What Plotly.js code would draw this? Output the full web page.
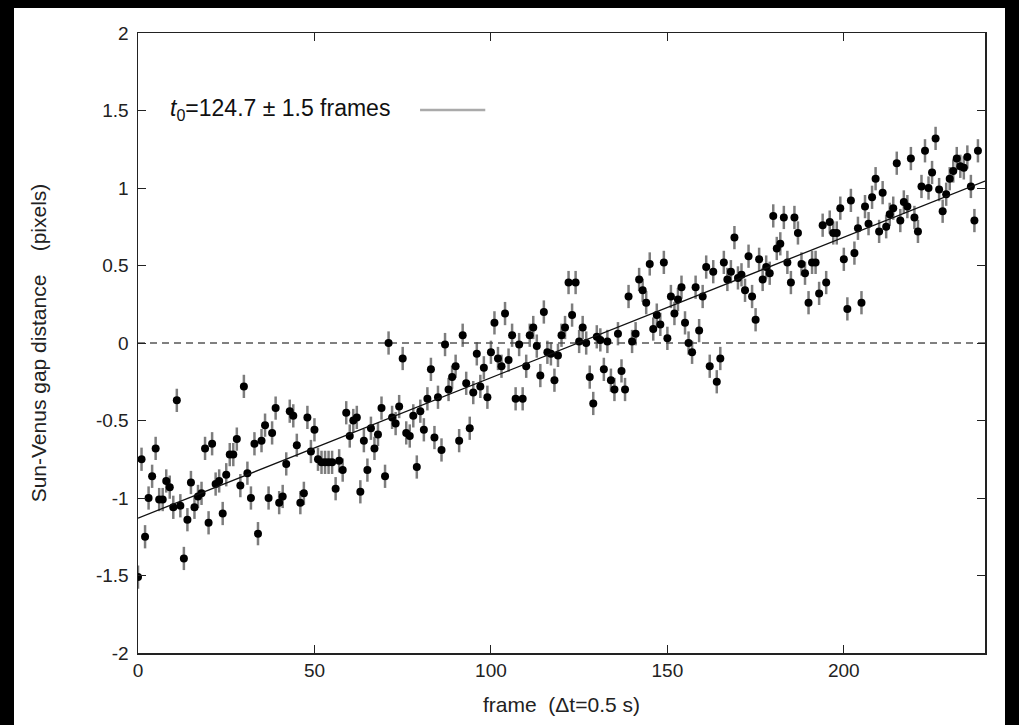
<!DOCTYPE html>
<html>
<head>
<meta charset="utf-8">
<script src="https://cdn.plot.ly/plotly-3.0.1.min.js"></script>
<style>
  html, body { margin: 0; padding: 0; background: #000; width: 1019px; height: 725px; overflow: hidden; }
  #chart { position: absolute; left: 14px; top: 8px; width: 991px; height: 717px; background: #fff; }
</style>
</head>
<body>
<div id="chart"></div>
<script>
// ---- data ----
const frames = [
  0,1,2,3,4,5,6,7,8,9,10,11,12,13,14,15,16,17,18,19,20,21,22,23,24,25,26,27,28,29,
  30,31,32,33,34,35,36,37,38,39,40,41,42,43,44,45,46,47,48,49,50,51,52,53,54,55,56,57,58,59,
  60,61,62,63,64,65,66,67,68,69,70,71,72,73,74,75,76,77,78,79,80,81,82,83,84,85,86,87,88,89,
  90,91,92,93,94,95,96,97,98,99,100,101,102,103,104,105,106,107,108,109,110,111,112,113,114,115,116,117,118,119,
  120,121,122,123,124,125,126,127,128,129,130,131,132,133,134,135,136,137,138,139,140,141,142,143,144,145,146,147,148,149,
  150,151,152,153,154,155,156,157,158,159,160,161,162,163,164,165,166,167,168,169,170,171,172,173,174,175,176,177,178,179,
  180,181,182,183,184,185,186,187,188,189,190,191,192,193,194,195,196,197,198,199,200,201,202,203,204,205,206,207,208,209,
  210,211,212,213,214,215,216,217,218,219,220,221,222,223,224,225,226,227,228,229,230,231,232,233,234,235,236,237,238,239
];
const gap = [
  -1.51,-0.75,-1.25,-1.00,-0.86,-0.68,-1.01,-1.01,-0.89,-0.93,-1.06,-0.37,-1.05,-1.39,-1.14,-0.90,-1.06,-0.99,-0.97,-0.68,
  -1.16,-0.65,-0.91,-0.89,-1.10,-0.85,-0.72,-0.72,-0.62,-0.92,-0.28,
  -0.84,-1.00,-0.65,-1.23,-0.63,-0.53,-1.00,-0.58,-0.42,-1.03,-0.99,-0.78,-0.44,-0.47,-0.66,-1.03,-0.97,-0.48,-0.70,-0.56,
  -0.75,-0.77,-0.77,-0.77,-0.77,-0.94,-0.76,-0.82,-0.45,
  -0.60,-0.50,-0.48,-0.96,-0.63,-0.82,-0.55,-0.68,-0.59,-0.42,-0.86,0.00,-0.48,-0.52,-0.41,-0.10,-0.58,-0.60,-0.47,-0.80,
  -0.44,-0.56,-0.36,-0.17,-0.61,-0.35,-0.69,-0.01,-0.30,-0.22,
  -0.15,-0.63,0.05,-0.26,-0.55,-0.32,-0.07,-0.28,-0.16,-0.35,-0.06,0.13,-0.10,-0.15,0.19,-0.11,0.05,-0.36,-0.01,-0.36,
  -0.15,0.05,0.10,-0.02,-0.21,0.20,-0.06,-0.07,-0.24,
  -0.08,0.05,0.10,0.39,0.18,0.39,0.01,0.10,0.00,-0.22,-0.39,0.04,0.02,-0.17,0.01,-0.24,-0.30,0.06,-0.18,-0.30,
  0.30,0.01,0.06,0.41,0.34,0.26,0.51,0.09,0.18,0.12,
  0.52,0.03,0.30,0.19,0.28,0.36,0.13,0.00,-0.06,0.36,0.08,0.30,0.49,-0.15,0.46,-0.25,-0.10,0.52,0.41,0.46,
  0.68,0.42,0.44,0.34,0.56,0.30,0.15,0.54,0.41,0.49,
  0.45,0.82,0.61,0.64,0.81,0.52,0.39,0.81,0.71,0.51,0.45,0.26,0.52,0.52,0.32,0.76,0.39,0.78,0.71,0.71,
  0.87,0.54,0.22,0.92,0.58,0.74,0.26,0.88,0.77,0.94,
  1.06,0.72,0.97,0.75,0.83,0.87,1.16,0.79,0.91,0.88,1.19,0.81,0.72,1.01,1.24,1.00,1.10,1.32,0.99,0.85,
  0.96,1.06,1.11,1.19,1.14,1.13,1.20,1.01,0.79,1.24
];
const fitFrames = [0, 240];
const fitGap = [-1.13, 1.045];
const zeroFrames = [0, 240];
const zeroGap = [0, 0];
const xTicks = [0, 50, 100, 150, 200];
const yTicks = [-2, -1.5, -1, -0.5, 0, 0.5, 1, 1.5, 2];
const yTickText = ['-2', '-1.5', '-1', '-0.5', '0', '0.5', '1', '1.5', '2'];
const legendText = '<i>t</i><sub>0</sub>=124.7 ± 1.5 frames';

const n = Math.min(frames.length, gap.length);
const xs = frames.slice(0, n), ys = gap.slice(0, n);

const font = 'Liberation Sans, Arial, Helvetica, sans-serif';

const traces = [
  {
    x: zeroFrames, y: zeroGap, mode: 'lines', type: 'scatter',
    line: { color: '#000', width: 1, dash: '7px,5px' }, hoverinfo: 'skip', showlegend: false
  },
  {
    x: xs, y: ys, mode: 'markers', type: 'scatter',
    marker: { color: '#000', size: 8 },
    error_y: { type: 'constant', value: 0.075, color: 'rgba(70,70,70,0.7)', thickness: 2.5, width: 0 },
    showlegend: false
  },
  {
    x: fitFrames, y: fitGap, mode: 'lines', type: 'scatter',
    line: { color: '#111', width: 1.3 }, hoverinfo: 'skip', showlegend: false
  }
];

const axisCommon = {
  showgrid: false, zeroline: false, showline: true, linecolor: '#222', linewidth: 1.5,
  mirror: 'ticks', ticks: 'inside', ticklen: 8, tickcolor: '#222', tickwidth: 1,
  tickfont: { family: font, size: 19, color: '#222' }
};

const layout = {
  width: 991, height: 717,
  margin: { l: 124, r: 20, t: 25, b: 72 },
  paper_bgcolor: '#fff', plot_bgcolor: '#fff',
  showlegend: false,
  xaxis: Object.assign({}, axisCommon, {
    range: [0, 240], tickvals: xTicks, ticktext: xTicks.map(String),
    title: { text: 'frame&nbsp;&nbsp;(Δt=0.5 s)', font: { family: font, size: 21, color: '#222' }, standoff: 17 }
  }),
  yaxis: Object.assign({}, axisCommon, {
    range: [-2, 2], tickvals: yTicks, ticktext: yTickText, ticklabelstandoff: 4,
    title: { text: 'Sun-Venus gap distance&nbsp;&nbsp;&nbsp;&nbsp;(pixels)', font: { family: font, size: 21, color: '#222' }, standoff: 43 }
  }),
  annotations: [
    { xref: 'paper', yref: 'paper', x: 0.036, y: 0.876, xanchor: 'left', yanchor: 'middle',
      text: legendText, showarrow: false, font: { family: font, size: 23, color: '#111' } }
  ],
  shapes: [
    { type: 'line', xref: 'paper', yref: 'paper', x0: 0.333, x1: 0.41, y0: 0.876, y1: 0.876,
      line: { color: '#aaa', width: 2.5 } }
  ]
};

Plotly.newPlot('chart', traces, layout, { displayModeBar: false, staticPlot: true });
</script>
</body>
</html>
